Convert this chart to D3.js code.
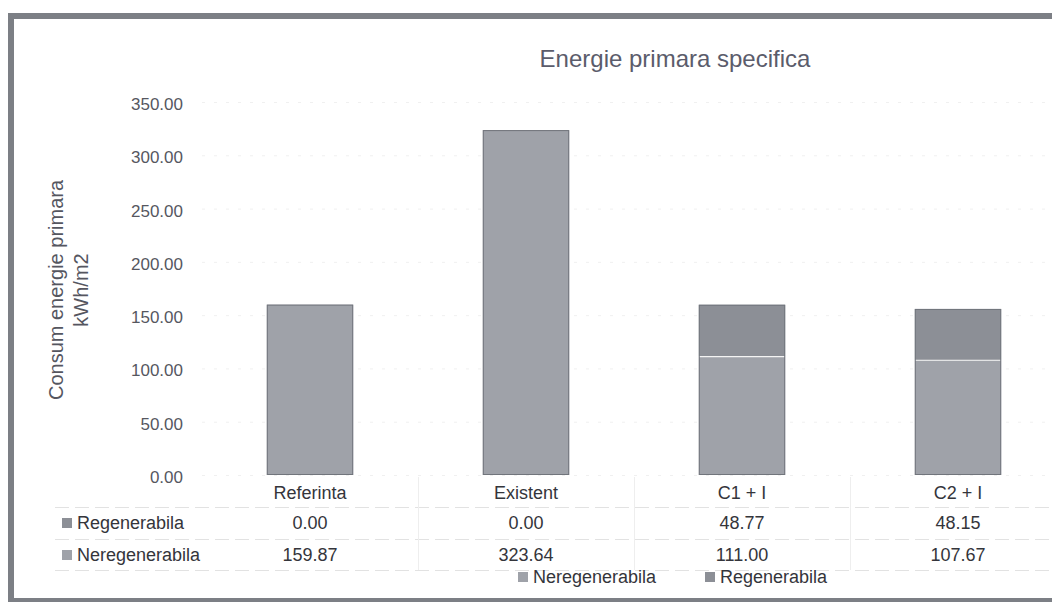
<!DOCTYPE html>
<html>
<head>
<meta charset="utf-8" />
<title>Energie primara specifica</title>
<style>
html, body {
	margin: 0px;
	padding: 0px;
	background: #fff;
}
svg { display: block; }
</style>
</head>
<body>
<div id="chart"></div>
<script src="https://cdn.jsdelivr.net/npm/d3@7/dist/d3.min.js"></script>
<script>

// date din grafic
var categorii = ["Referinta", "Existent", "C1 + I", "C2 + I"];
var neregenerabila = [159.87, 323.64, 111.00, 107.67];
var regenerabila = [0.00, 0.00, 48.77, 48.15];
var yTicks = [0, 50, 100, 150, 200, 250, 300, 350];
var serii = ["Neregenerabila", "Regenerabila"];

var W = 1052, H = 602;
var culori = { "Neregenerabila": "#9fa2a9", "Regenerabila": "#8c8f96" };
var fontTabel = "'Liberation Sans', sans-serif";

var svg = d3.select("#chart").append("svg")
	.attr("width", W)
	.attr("height", H);

svg.append("rect").attr("width", W).attr("height", H).attr("fill", "#fff");

// rama scanata
var rama = svg.append("g").attr("fill", "#7c7f85");
rama.append("rect").attr("x", 8).attr("y", 13).attr("width", W - 8).attr("height", 6);
rama.append("rect").attr("x", 8).attr("y", 13).attr("width", 6).attr("height", H - 13);
rama.append("rect").attr("x", 8).attr("y", 598).attr("width", W - 8).attr("height", 4);

// scale
var x = d3.scaleBand()
	.domain(categorii)
	.range([202, 1066])
	.paddingInner(0.6)
	.paddingOuter(0.3);

var y = d3.scaleLinear()
	.domain([0, 350])
	.range([475, 102]);

// titlu
svg.append("text")
	.attr("x", 675)
	.attr("y", 67)
	.attr("text-anchor", "middle")
	.attr("font-family", "'Liberation Sans', sans-serif")
	.attr("font-size", 24)
	.attr("fill", "#5b5c6b")
	.text("Energie primara specifica");

// titlu ax Y
var yt = svg.append("text")
	.attr("transform", "translate(63,290) rotate(-90)")
	.attr("text-anchor", "middle")
	.attr("font-family", "'Liberation Sans', sans-serif")
	.attr("font-size", 20)
	.attr("fill", "#55565f");
yt.append("tspan").attr("x", 0).attr("dy", 0).text("Consum energie primara");
yt.append("tspan").attr("x", 0).attr("dy", 25).text("kWh/m2");

// linii ghid, foarte slabe
svg.append("g")
	.selectAll("line")
	.data(yTicks)
	.enter()
	.append("line")
		.attr("x1", 202).attr("x2", 1066)
		.attr("y1", function(d) { return y(d) + 0.5; })
		.attr("y2", function(d) { return y(d) + 0.5; })
		.attr("stroke", "#f0f0f0")
		.attr("stroke-dasharray", "3,9");

// ax Y
var yAxis = d3.axisLeft(y)
	.tickValues(yTicks)
	.tickFormat(d3.format(".2f"))
	.tickSize(0)
	.tickPadding(0);

var gy = svg.append("g")
	.attr("transform", "translate(183,2)")
	.call(yAxis);
gy.select(".domain").remove();
gy.selectAll("text")
	.attr("font-family", "'Liberation Sans', sans-serif")
	.attr("font-size", 17)
	.attr("fill", "#56575f");

// bare stivuite
var stack = d3.stack().keys(serii);
var rows = categorii.map(function(c, i) {
	return { cat: c, "Neregenerabila": neregenerabila[i], "Regenerabila": regenerabila[i] };
});
var stacked = stack(rows);

var bars = svg.append("g");
stacked.forEach(function(s) {
	bars.selectAll("rect.s" + s.key)
		.data(s)
		.enter()
		.append("rect")
			.attr("x", function(d) { return x(d.data.cat); })
			.attr("y", function(d) { return y(d[1]); })
			.attr("width", x.bandwidth())
			.attr("height", function(d) { return y(d[0]) - y(d[1]); })
			.attr("fill", culori[s.key]);
});

// separator alb intre segmente
bars.selectAll("line.sep")
	.data(rows.filter(function(d) { return d["Regenerabila"] > 0; }))
	.enter()
	.append("line")
		.attr("x1", function(d) { return x(d.cat); })
		.attr("x2", function(d) { return x(d.cat) + x.bandwidth(); })
		.attr("y1", function(d) { return y(d["Neregenerabila"]); })
		.attr("y2", function(d) { return y(d["Neregenerabila"]); })
		.attr("stroke", "#f4f4f4")
		.attr("stroke-width", 1.2);

// contur
bars.selectAll("rect.contur")
	.data(rows)
	.enter()
	.append("rect")
		.attr("x", function(d) { return x(d.cat) + 0.5; })
		.attr("y", function(d) { return y(d["Neregenerabila"] + d["Regenerabila"]) + 0.5; })
		.attr("width", x.bandwidth() - 1)
		.attr("height", function(d) { return y(0) - y(d["Neregenerabila"] + d["Regenerabila"]) - 1; })
		.attr("fill", "none")
		.attr("stroke", "#71757c")
		.attr("stroke-width", 1);

// tabel de date
var tabel = svg.append("g")
	.attr("font-family", fontTabel)
	.attr("font-size", 18)
	.attr("fill", "#34353b");

var rowY = { cat: 493, reg: 523, nereg: 555 };

// linii tabel
[507, 539, 570].forEach(function(ly) {
	tabel.append("line")
		.attr("x1", 55).attr("x2", 1066)
		.attr("y1", ly + 0.5).attr("y2", ly + 0.5)
		.attr("stroke", "#e2e2e2")
		.attr("stroke-dasharray", "14,6");
});
var colEdges = categorii.map(function(c) { return x(c) + x.bandwidth() + x.step() * 0.3; });
colEdges.slice(0, 3).forEach(function(cx) {
	tabel.append("line")
		.attr("x1", cx + 0.5).attr("x2", cx + 0.5)
		.attr("y1", 477).attr("y2", 570)
		.attr("stroke", "#eeeeee");
});

tabel.selectAll("text.cat")
	.data(categorii)
	.enter()
	.append("text")
		.attr("x", function(d) { return x(d) + x.bandwidth() / 2; })
		.attr("y", rowY.cat)
		.attr("dy", "0.35em")
		.attr("text-anchor", "middle")
		.text(function(d) { return d; });

var fmt = d3.format(".2f");
tabel.selectAll("text.reg")
	.data(regenerabila)
	.enter()
	.append("text")
		.attr("x", function(d, i) { return x(categorii[i]) + x.bandwidth() / 2; })
		.attr("y", rowY.reg)
		.attr("dy", "0.35em")
		.attr("text-anchor", "middle")
		.text(function(d) { return fmt(d); });

tabel.selectAll("text.nereg")
	.data(neregenerabila)
	.enter()
	.append("text")
		.attr("x", function(d, i) { return x(categorii[i]) + x.bandwidth() / 2; })
		.attr("y", rowY.nereg)
		.attr("dy", "0.35em")
		.attr("text-anchor", "middle")
		.text(function(d) { return fmt(d); });

// chei in tabel
[["Regenerabila", rowY.reg], ["Neregenerabila", rowY.nereg]].forEach(function(r) {
	tabel.append("rect")
		.attr("x", 62).attr("y", r[1] - 5)
		.attr("width", 10).attr("height", 10)
		.attr("fill", culori[r[0]]);
	tabel.append("text")
		.attr("x", 77).attr("y", r[1])
		.attr("dy", "0.35em")
		.text(r[0]);
});

// legenda jos
var legenda = svg.append("g")
	.attr("font-family", fontTabel)
	.attr("font-size", 18)
	.attr("fill", "#34353b");
var legX = [518, 705];
serii.forEach(function(s, i) {
	legenda.append("rect")
		.attr("x", legX[i]).attr("y", 572)
		.attr("width", 10).attr("height", 10)
		.attr("fill", culori[s]);
	legenda.append("text")
		.attr("x", legX[i] + 15).attr("y", 577)
		.attr("dy", "0.35em")
		.text(s);
});

</script>
</body>
</html>
